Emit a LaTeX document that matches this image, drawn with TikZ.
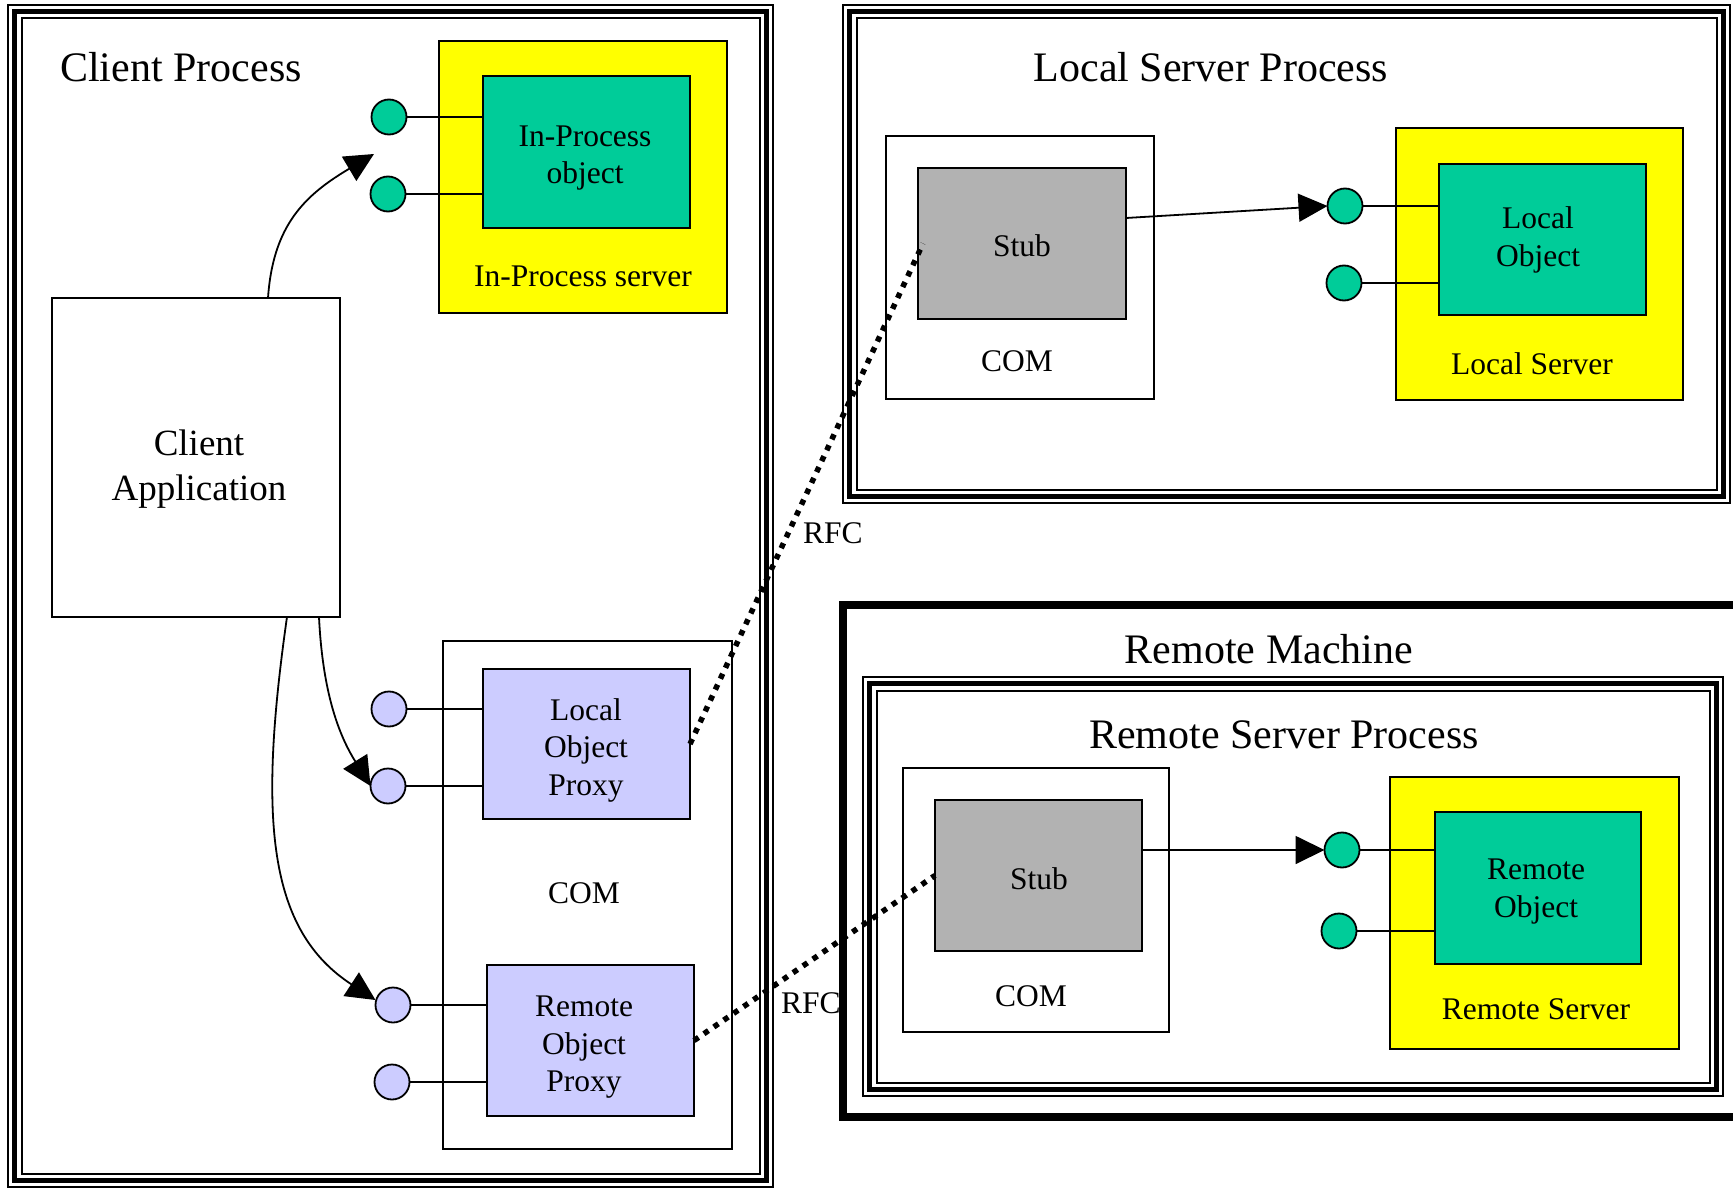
\documentclass[tikz,border=0pt]{standalone}
\usepackage{fontspec}
\setmainfont{Liberation Serif}
\usetikzlibrary{arrows.meta,calc}

\definecolor{objgreen}{RGB}{0,204,153}
\definecolor{srvyellow}{RGB}{255,255,0}
\definecolor{proxyblue}{RGB}{204,204,255}
\definecolor{stubgray}{RGB}{178,178,178}

% process frame: thin outer line, heavy middle line, thin inner line
\newcommand\tripleframe[4]{%
  \draw[line width=2pt] (#1,#2) rectangle (#3,#4);
  \draw[line width=4.5pt] ({#1+6.5},{#2+6.5}) rectangle ({#3-6.5},{#4-6.5});
  \draw[line width=2pt] ({#1+13.5},{#2+13.5}) rectangle ({#3-13.5},{#4-13.5});
}

\begin{document}
\begin{tikzpicture}[x=1pt,y=-1pt,
  box/.style={draw, line width=1.8pt, inner sep=0pt, outer sep=0pt},
  server/.style={box, fill=srvyellow},
  object/.style={box, fill=objgreen},
  proxy/.style={box, fill=proxyblue},
  stubbox/.style={box, fill=stubgray},
  port/.style={circle, draw, line width=1.8pt, minimum size=35pt, inner sep=0pt, outer sep=0pt},
  objport/.style={port, fill=objgreen},
  proxyport/.style={port, fill=proxyblue},
  stick/.style={line width=1.6pt},
  call/.style={line width=1.8pt, -{Triangle[length=29pt,width=28pt]}},
  rpc/.style={line width=5.5pt, dash pattern=on 5.5pt off 6.5pt},
  title/.style={font=\fontsize{42}{50}\selectfont, inner sep=0pt},
  lbl/.style={font=\fontsize{31.5}{37.5}\selectfont, align=center, inner sep=0pt},
  applbl/.style={font=\fontsize{37}{45}\selectfont, align=center, inner sep=0pt},
]
\path[use as bounding box] (0,0) rectangle (1733,1190);
\fill[white] (0,0) rectangle (1733,1190);
\clip (0,0) rectangle (1733,1190);

% ---- frames ----
\tripleframe{8}{5}{773}{1187}
\tripleframe{843}{5}{1730}{503}
\draw[line width=7.5pt] (843,605) rectangle (1770,1117);
\tripleframe{863}{677}{1723}{1096}

% ---- titles ----
\node[title, anchor=base west] (tcp) at (60,82) {Client Process};
\node[title, anchor=base] (tlsp) at (1211,82) {Local Server Process};
\node[title, anchor=base] (trm) at (1269,663) {Remote Machine};
\node[title, anchor=base] (trsp) at (1284,748) {Remote Server Process};

% ---- client process ----
\node[box, minimum width=288pt, minimum height=319pt] (capp) at (196,457.5) {};
\node[applbl] (capptxt) at (199,469) {Client\\Application};

\node[server, minimum width=288pt, minimum height=272pt] (insrv) at (583,177) {};
\node[lbl, anchor=base] (insrvtxt) at (583,287) {In-Process server};
\node[objport] (ic1) at (389,117) {};
\node[objport] (ic2) at (388,194) {};
\coordinate (inobjw) at (483,152);
\draw[stick] (ic1.east) -- (ic1.east -| inobjw);
\draw[stick] (ic2.east) -- (ic2.east -| inobjw);
\node[object, minimum width=207pt, minimum height=152pt] (inobj) at (586.5,152) {};
\node[lbl] (inobjtxt) at (585,158) {In-Process\\object};

\node[box, minimum width=289pt, minimum height=508pt] (ccom) at (587.5,895) {};
\node[lbl, anchor=base] (ccomtxt) at (584,903) {COM};

\node[proxyport] (pc1) at (389,709) {};
\node[proxyport] (pc2) at (388,786) {};
\node[proxyport] (qc1) at (393,1005) {};
\node[proxyport] (qc2) at (392,1082) {};
\node[proxy, minimum width=207pt, minimum height=150pt] (lproxy) at (586.5,744) {};
\node[proxy, minimum width=207pt, minimum height=151pt] (rproxy) at (590.5,1040.5) {};
\draw[stick] (pc1.east) -- (pc1.east -| lproxy.west);
\draw[stick] (pc2.east) -- (pc2.east -| lproxy.west);
\draw[stick] (qc1.east) -- (qc1.east -| rproxy.west);
\draw[stick] (qc2.east) -- (qc2.east -| rproxy.west);
\node[lbl] (lproxytxt) at (586,750) {Local\\Object\\Proxy};
\node[lbl] (rproxytxt) at (584,1047.5) {Remote\\Object\\Proxy};

% calls from the client application
\coordinate (inaim) at (374,154);
\draw[call] ([xshift=72pt]capp.north) .. controls (273,225) and (305,195) .. (inaim);
\draw[call] ([xshift=123pt]capp.south) .. controls (323,700) and (342,740) .. (pc2.west);
\draw[call] ([xshift=91pt]capp.south) .. controls (258,820) and (268,930) .. ([yshift=5pt]qc1.west);

% ---- local server process ----
\node[box, minimum width=268pt, minimum height=263pt] (lcom) at (1020,267.5) {};
\node[stubbox, minimum width=208pt, minimum height=151pt] (lstub) at (1022,243.5) {};
\node[lbl, anchor=base] (lstubtxt) at (1022,257) {Stub};
\node[lbl, anchor=base] (lcomtxt) at (1017,372) {COM};

\node[server, minimum width=287pt, minimum height=272pt] (lsrv) at (1539.5,264) {};
\node[lbl, anchor=base] (lsrvtxt) at (1532,374) {Local Server};
\node[objport] (lc1) at (1345,206) {};
\node[objport] (lc2) at (1344,283) {};
\coordinate (lobjw) at (1439,240);
\draw[stick] (lc1.east) -- (lc1.east -| lobjw);
\draw[stick] (lc2.east) -- (lc2.east -| lobjw);
\node[object, minimum width=207pt, minimum height=151pt] (lobj) at (1542.5,239.5) {};
\node[lbl] (lobjtxt) at (1538,239.7) {Local\\Object};
\draw[call] ([yshift=25.5pt]lstub.east) -- (lc1.west);

% ---- remote server process ----
\node[box, minimum width=266pt, minimum height=264pt] (rcom) at (1036,900) {};
\node[stubbox, minimum width=207pt, minimum height=151pt] (rstub) at (1038.5,875.5) {};
\node[lbl, anchor=base] (rstubtxt) at (1039,889) {Stub};
\node[lbl, anchor=base] (rcomtxt) at (1031,1006) {COM};

\node[server, minimum width=289pt, minimum height=272pt] (rsrv) at (1534.5,913) {};
\node[lbl, anchor=base] (rsrvtxt) at (1536,1019) {Remote Server};
\node[objport] (rc1) at (1342,850) {};
\node[objport] (rc2) at (1339,931) {};
\coordinate (robjw) at (1435,888);
\draw[stick] (rc1.east) -- (rc1.east -| robjw);
\draw[stick] (rc2.east) -- (rc2.east -| robjw);
\node[object, minimum width=206pt, minimum height=152pt] (robj) at (1538,888) {};
\node[lbl] (robjtxt) at (1536,891.7) {Remote\\Object};
\draw[call] (rstub.east |- rc1.west) -- (rc1.west);

% ---- remote calls between proxies and stubs ----
\draw[rpc] (lproxy.east) -- ([xshift=5pt]lstub.west);
\draw[rpc] (rproxy.east) -- (rstub.west);
\node[lbl, anchor=base west] (rfc1) at (803,543) {RFC};
\node[lbl, anchor=base west] (rfc2) at (781,1013) {RFC};
\end{tikzpicture}
\end{document}
